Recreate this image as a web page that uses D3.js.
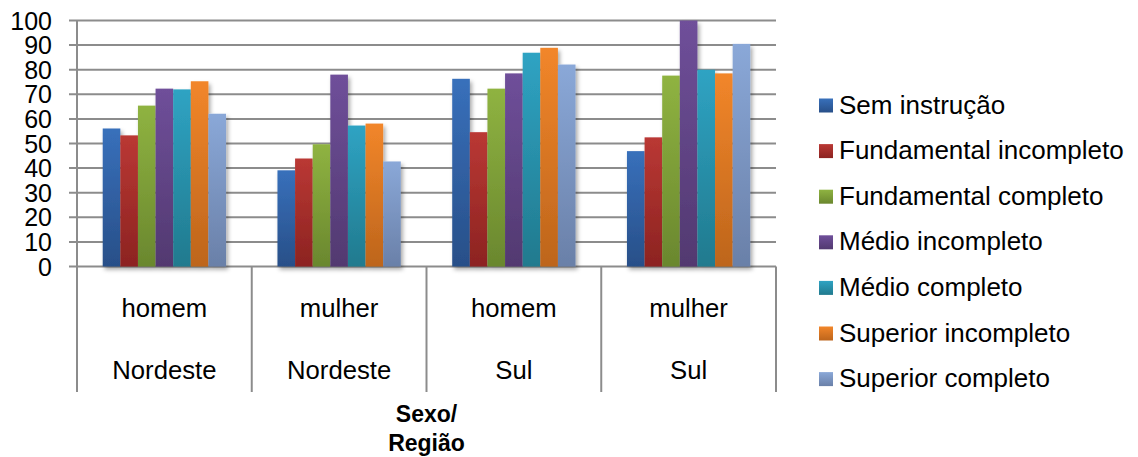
<!DOCTYPE html>
<html>
<head>
<meta charset="utf-8">
<script src="https://cdn.jsdelivr.net/npm/d3@7"></script>
<style>
  html, body { margin: 0; padding: 0; background: #fff; }
  svg { display: block; }
  text { font-family: "Liberation Sans", Arial, sans-serif; fill: #000; }
</style>
</head>
<body>
<svg id="chart" width="1138" height="457"></svg>
<script>
// Category levels (sex / region)
const sexo = ["homem", "mulher", "homem", "mulher"];
const regiao = ["Nordeste", "Nordeste", "Sul", "Sul"];

// Education levels (series)
const niveis = [
  "Sem instrução",
  "Fundamental incompleto",
  "Fundamental completo",
  "Médio incompleto",
  "Médio completo",
  "Superior incompleto",
  "Superior completo"
];

// Values per education level, one per category
const semInstrucao    = [56.1, 39.1, 76.3, 46.9];
const fundIncompleto  = [53.3, 43.9, 54.6, 52.5];
const fundCompleto    = [65.4, 49.7, 72.3, 77.6];
const medioIncompleto = [72.3, 78.0, 78.5, 100];
const medioCompleto   = [72.0, 57.3, 86.9, 80.0];
const supIncompleto   = [75.3, 58.1, 88.9, 78.5];
const supCompleto     = [62.1, 42.7, 82.1, 90.5];

const yTicks = [0, 10, 20, 30, 40, 50, 60, 70, 80, 90, 100];

const seriesValues = [semInstrucao, fundIncompleto, fundCompleto, medioIncompleto,
                      medioCompleto, supIncompleto, supCompleto];

// Gradient stops (top, bottom) for each series
const palette = [
  ["#3870bb", "#284f88"],
  ["#ba3834", "#8c2321"],
  ["#8fb341", "#6a872e"],
  ["#6f4f9a", "#523970"],
  ["#2fa3c3", "#217a8e"],
  ["#f2862a", "#bd651c"],
  ["#8aa8d8", "#6a80a8"]
];

const svg = d3.select("#chart");
const defs = svg.append("defs");

palette.forEach((c, i) => {
  const g = defs.append("linearGradient")
    .attr("id", "grad" + i)
    .attr("x1", 0).attr("y1", 0).attr("x2", 0).attr("y2", 1);
  g.append("stop").attr("offset", "0%").attr("stop-color", c[0]);
  g.append("stop").attr("offset", "100%").attr("stop-color", c[1]);
});

const shadow = defs.append("filter").attr("id", "shadow")
  .attr("x", "-20%").attr("y", "-5%").attr("width", "150%").attr("height", "120%");
shadow.append("feDropShadow")
  .attr("dx", 2).attr("dy", 3).attr("stdDeviation", 2)
  .attr("flood-color", "#000").attr("flood-opacity", 0.35);

const plotLeft = 77, plotRight = 776, plotTop = 20.5, plotBottom = 266.5, catBottom = 392;
const gridColor = "#8c8c8c";

const categories = d3.range(sexo.length);
const x = d3.scaleBand().domain(categories).range([plotLeft, plotRight]);
const xi = d3.scaleBand().domain(d3.range(niveis.length))
  .range([0, x.bandwidth()]).paddingInner(0).paddingOuter(1.46);
const y = d3.scaleLinear().domain([0, 100]).range([plotBottom, plotTop]);

// Horizontal gridlines extended left as tick marks
svg.append("g").selectAll("line").data(yTicks).join("line")
  .attr("x1", plotLeft - 8).attr("x2", plotRight)
  .attr("y1", d => y(d)).attr("y2", d => y(d))
  .attr("stroke", gridColor).attr("stroke-width", 2);

// Y tick labels
svg.append("g").selectAll("text").data(yTicks).join("text")
  .attr("x", 52).attr("y", d => y(d) + 9)
  .attr("text-anchor", "end")
  .attr("font-size", 25)
  .text(d => d);

// Vertical axis line and category dividers
svg.append("line")
  .attr("x1", plotLeft).attr("x2", plotLeft).attr("y1", plotTop).attr("y2", catBottom)
  .attr("stroke", gridColor).attr("stroke-width", 2);
svg.append("g").selectAll("line").data(categories).join("line")
  .attr("x1", d => x(d) + x.bandwidth()).attr("x2", d => x(d) + x.bandwidth())
  .attr("y1", plotBottom).attr("y2", catBottom)
  .attr("stroke", gridColor).attr("stroke-width", 2);

// Bars
const barG = svg.append("g").attr("filter", "url(#shadow)");
seriesValues.forEach((vals, s) => {
  barG.append("g").selectAll("rect").data(vals).join("rect")
    .attr("x", (d, i) => x(i) + xi(s))
    .attr("width", xi.bandwidth())
    .attr("y", d => y(d))
    .attr("height", d => y(0) - y(d))
    .attr("fill", `url(#grad${s})`);
});

// Category labels (two levels)
svg.append("g").selectAll("text").data(sexo).join("text")
  .attr("x", (d, i) => x(i) + x.bandwidth() / 2)
  .attr("y", 316.5)
  .attr("text-anchor", "middle").attr("font-size", 25.7)
  .text(d => d);
svg.append("g").selectAll("text").data(regiao).join("text")
  .attr("x", (d, i) => x(i) + x.bandwidth() / 2)
  .attr("y", 379)
  .attr("text-anchor", "middle").attr("font-size", 25.7)
  .text(d => d);

// Axis title
const cx = (plotLeft + plotRight) / 2;
const title = svg.append("text")
  .attr("text-anchor", "middle")
  .attr("font-size", 23).attr("font-weight", "bold");
title.append("tspan").attr("x", cx).attr("y", 421.5).text("Sexo/");
title.append("tspan").attr("x", cx).attr("y", 450.5).text("Região");

// Legend
const legend = svg.append("g").selectAll("g").data(niveis).join("g")
  .attr("transform", (d, i) => `translate(819,${113.5 + i * 45.6})`);
legend.append("rect")
  .attr("x", 0).attr("y", -15).attr("width", 14).attr("height", 14)
  .attr("fill", (d, i) => `url(#grad${i})`);
legend.append("text")
  .attr("x", 20).attr("y", 0).attr("font-size", 26)
  .text(d => d);
</script>
</body>
</html>
